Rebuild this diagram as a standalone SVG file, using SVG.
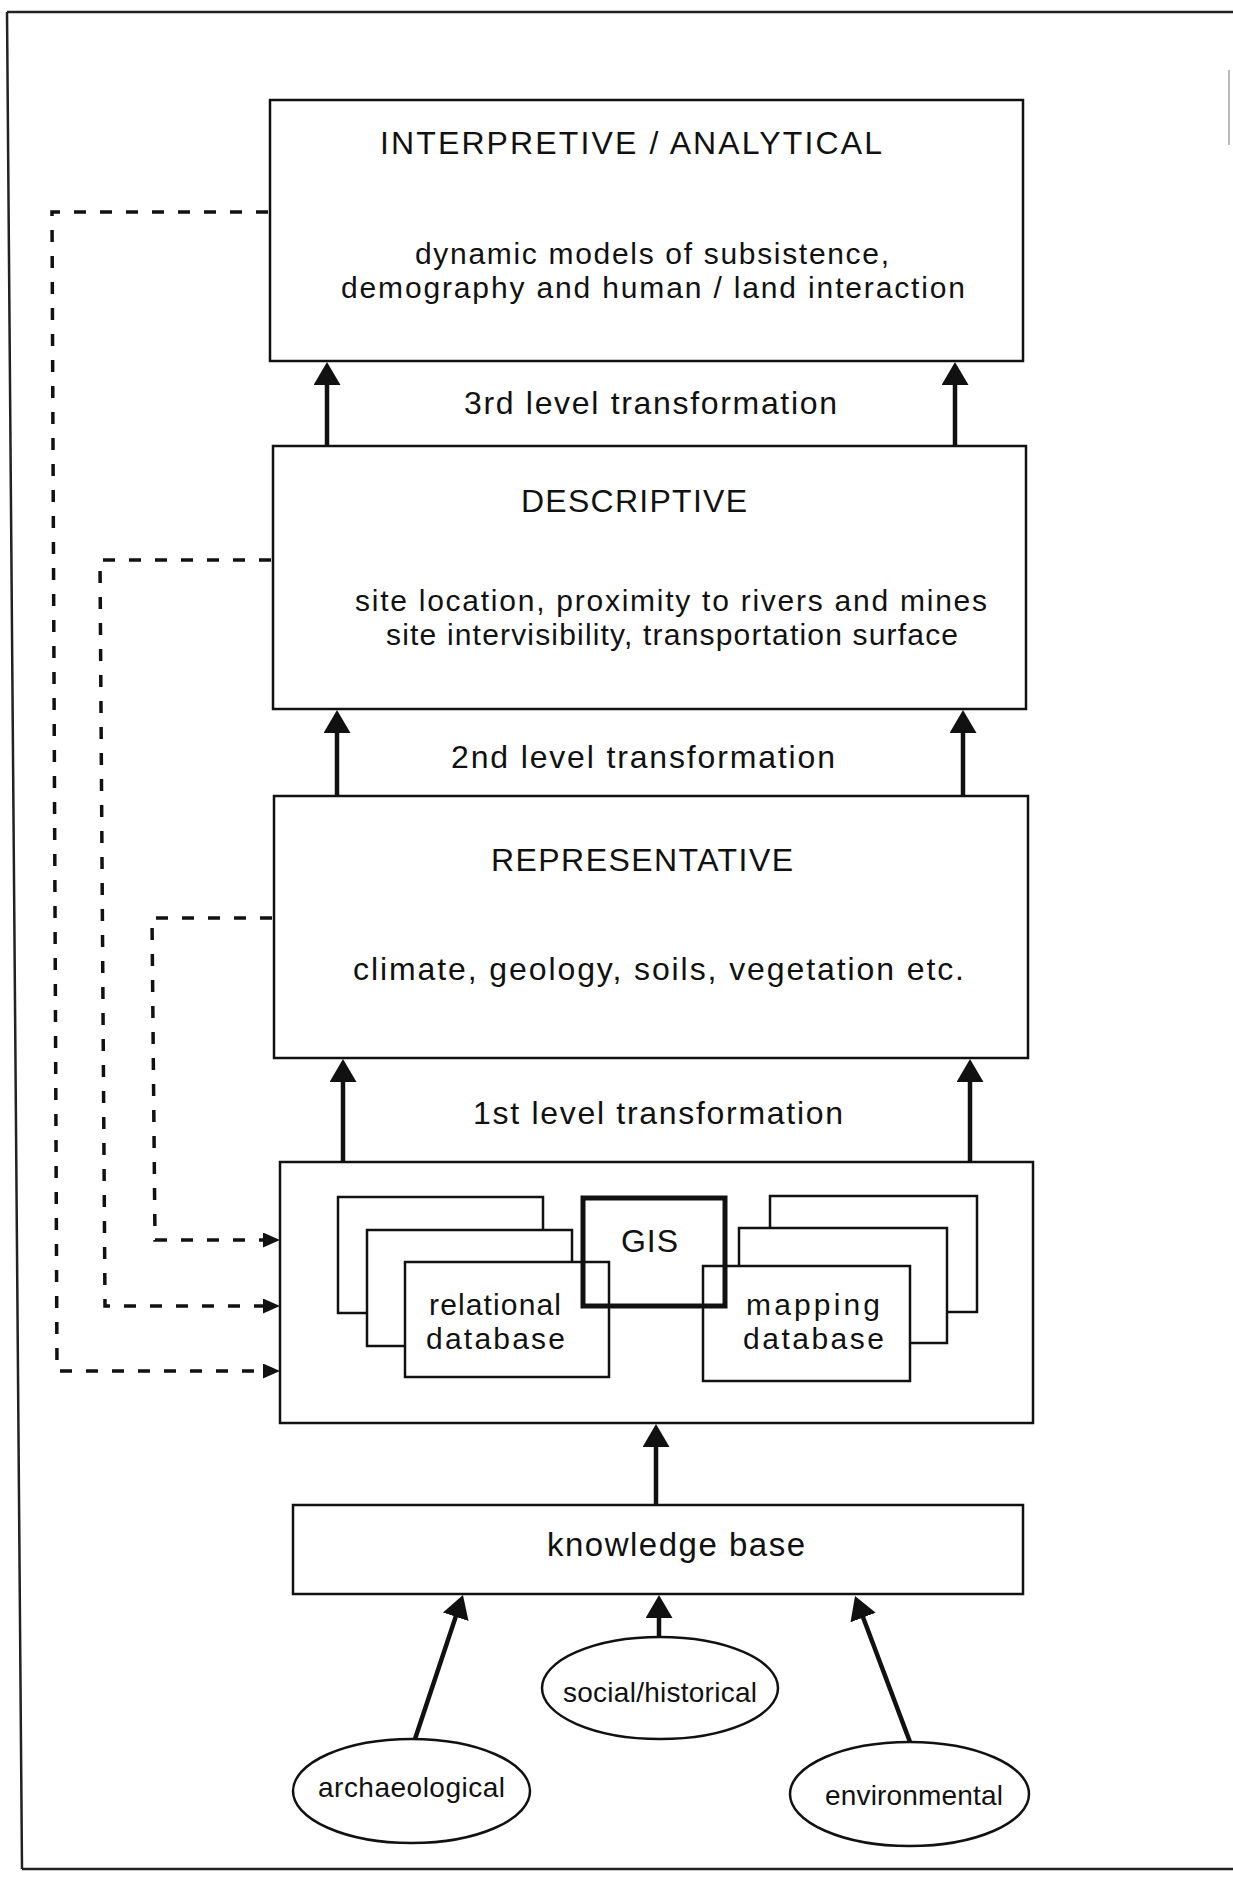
<svg xmlns="http://www.w3.org/2000/svg" width="1233" height="1881" viewBox="0 0 1233 1881">
<style>
 .box{fill:#fff;stroke:#111;stroke-width:2.5}
 .gis{fill:none;stroke:#111;stroke-width:5}
 .ell{fill:#fff;stroke:#111;stroke-width:2.5}
 .t{font-family:"Liberation Sans",Arial,Helvetica,sans-serif;font-size:32px;fill:#111}
 .m{font-size:30px}
 .e{font-size:28px}
 .kb{font-size:33px}
 .arr{stroke:#111;stroke-width:4.5;fill:none;marker-end:url(#ah)}
 .dash{stroke:#111;stroke-width:3.5;fill:none;stroke-dasharray:12 14;marker-end:url(#dah)}
 .frame{stroke:#222;stroke-width:2.5;fill:none}
</style>
<defs>
 <marker id="ah" markerUnits="userSpaceOnUse" viewBox="0 0 23 27" refX="12" refY="13.5" markerWidth="23" markerHeight="27" orient="auto"><path d="M0,0 L23,13.5 L0,27 z" fill="#111"/></marker>
 <marker id="dah" markerUnits="userSpaceOnUse" viewBox="0 0 17 15" refX="8" refY="7.5" markerWidth="17" markerHeight="15" orient="auto"><path d="M0,0 L17,7.5 L0,15 z" fill="#111"/></marker>
</defs>
<rect x="0" y="0" width="1233" height="1881" fill="#fff"/>
<g id="frame">
 <path class="frame" d="M7,12 H1233 M7,12 L22,1869 M22,1869 H1233"/>
 <path d="M1229,70 V145" stroke="#bbb" stroke-width="2" fill="none"/>
</g>
<g id="interpretive">
 <rect class="box" x="270" y="100" width="753" height="261"/>
 <text class="t" x="380" y="154" textLength="502" lengthAdjust="spacing">INTERPRETIVE / ANALYTICAL</text>
 <text class="t m" x="415" y="264" textLength="474" lengthAdjust="spacing">dynamic models of subsistence,</text>
 <text class="t m" x="341" y="298" textLength="624" lengthAdjust="spacing">demography and human / land interaction</text>
</g>
<g id="descriptive">
 <rect class="box" x="273" y="446" width="753" height="263"/>
 <text class="t" x="521" y="512" textLength="226" lengthAdjust="spacing">DESCRIPTIVE</text>
 <text class="t m" x="355" y="611" textLength="632" lengthAdjust="spacing">site location, proximity to rivers and mines</text>
 <text class="t m" x="386" y="645" textLength="572" lengthAdjust="spacing">site intervisibility, transportation surface</text>
</g>
<g id="representative">
 <rect class="box" x="274" y="796" width="754" height="262"/>
 <text class="t" x="491" y="871" textLength="302" lengthAdjust="spacing">REPRESENTATIVE</text>
 <text class="t" x="353" y="980" textLength="611" lengthAdjust="spacing">climate, geology, soils, vegetation etc.</text>
</g>
<g id="gis-system">
 <rect class="box" x="280" y="1162" width="753" height="261"/>
 <g id="relational-database">
  <rect class="box" x="338" y="1197" width="205" height="116"/>
  <rect class="box" x="367" y="1230" width="205" height="116"/>
  <rect class="box" x="405" y="1262" width="204" height="115"/>
  <text class="t m" x="429" y="1315" textLength="132" lengthAdjust="spacing">relational</text>
  <text class="t m" x="426" y="1349" textLength="139" lengthAdjust="spacing">database</text>
 </g>
 <g id="mapping-database">
  <rect class="box" x="770" y="1196" width="207" height="116"/>
  <rect class="box" x="739" y="1228" width="208" height="115"/>
  <rect class="box" x="703" y="1266" width="207" height="115"/>
  <text class="t m" x="746" y="1315" textLength="134" lengthAdjust="spacing">mapping</text>
  <text class="t m" x="743" y="1349" textLength="141" lengthAdjust="spacing">database</text>
 </g>
 <g id="gis">
  <rect class="gis" x="583" y="1198" width="142" height="108"/>
  <text class="t" x="621" y="1252" textLength="57" lengthAdjust="spacing">GIS</text>
 </g>
</g>
<g id="knowledge-base">
 <rect class="box" x="293" y="1505" width="730" height="89"/>
 <text class="t kb" x="547" y="1556" textLength="258" lengthAdjust="spacing">knowledge base</text>
</g>
<g id="social-historical">
 <ellipse class="ell" cx="660" cy="1688" rx="118" ry="51"/>
 <text class="t e" x="563" y="1702" textLength="194" lengthAdjust="spacing">social/historical</text>
</g>
<g id="archaeological">
 <ellipse class="ell" cx="411.5" cy="1791" rx="118.5" ry="52"/>
 <text class="t e" x="318" y="1797" textLength="187" lengthAdjust="spacing">archaeological</text>
</g>
<g id="environmental">
 <ellipse class="ell" cx="909.5" cy="1794" rx="119.5" ry="52"/>
 <text class="t e" x="825" y="1805" textLength="178" lengthAdjust="spacing">environmental</text>
</g>
<g id="connectors">
 <line class="arr" x1="327" y1="446" x2="327" y2="373"/>
 <line class="arr" x1="955" y1="446" x2="955" y2="373"/>
 <text class="t" x="464" y="414" textLength="373" lengthAdjust="spacing">3rd level transformation</text>
 <line class="arr" x1="337" y1="796" x2="337" y2="721"/>
 <line class="arr" x1="963" y1="796" x2="963" y2="721"/>
 <text class="t" x="451" y="768" textLength="384" lengthAdjust="spacing">2nd level transformation</text>
 <line class="arr" x1="343" y1="1162" x2="343" y2="1070"/>
 <line class="arr" x1="970" y1="1162" x2="970" y2="1070"/>
 <text class="t" x="473" y="1124" textLength="370" lengthAdjust="spacing">1st level transformation</text>
 <line class="arr" x1="656" y1="1505" x2="656" y2="1435"/>
 <line class="arr" x1="659" y1="1637" x2="659" y2="1606"/>
 <line class="arr" x1="415" y1="1739" x2="459.5" y2="1605.4"/>
 <line class="arr" x1="910" y1="1742" x2="858.9" y2="1606.3"/>
 <path class="dash" d="M268,212 L52,212 L57,1371 L271,1371"/>
 <path class="dash" d="M271,560 L100,560 L105,1306 L271,1306"/>
 <path class="dash" d="M272,918 L152,918 L155,1240 L271,1240"/>
</g>
</svg>
